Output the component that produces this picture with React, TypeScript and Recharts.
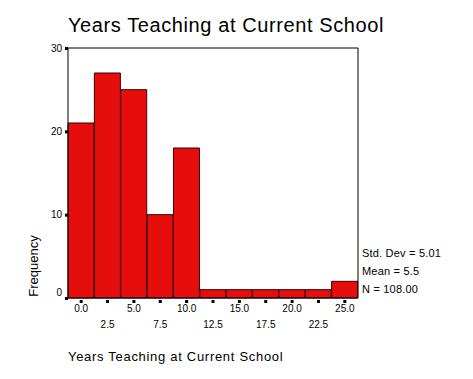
import * as React from "react"
import { Bar, BarChart, XAxis, YAxis } from "recharts"

// histogram bins (centres, width 2.5) and their counts
const binLabels = ["0.0", "2.5", "5.0", "7.5", "10.0", "12.5", "15.0", "17.5", "20.0", "22.5", "25.0"]
const frequencies = [21, 27, 25, 10, 18, 1, 1, 1, 1, 1, 2]
const yTicks = [0, 10, 20, 30]
const stats = ["Std. Dev = 5.01", "Mean = 5.5", "N = 108.00"]

const FONT = "Arial, 'Liberation Sans', sans-serif"
const BAR_RED = "#e60d0d"

const data = binLabels.map((bin, i) => ({ bin, count: frequencies[i] }))

function XTick(props: any) {
  const { x, y, payload, index } = props
  const lower = index % 2 === 1
  return (
    <g>
      <rect x={x - 1.5} y={y + 2} width={3} height={3} fill="#000" />
      <text
        x={x}
        y={y + (lower ? 30 : 14)}
        textAnchor="middle"
        fontSize={10}
        fontFamily={FONT}
        fill="#000"
      >
        {payload.value}
      </text>
    </g>
  )
}

function YTick(props: any) {
  const { x, y, payload } = props
  return (
    <g>
      <rect x={x - 3} y={y - 1} width={3} height={3} fill="#000" />
      <text
        x={x - 6}
        y={y + (payload.value === 0 ? -6 : 0)}
        dy={3.5}
        textAnchor="end"
        fontSize={10}
        fontFamily={FONT}
        fill="#000"
      >
        {payload.value}
      </text>
    </g>
  )
}

export default function App() {
  return (
    <div style={{ position: "absolute", left: 0, top: 0, width: 473, height: 379, background: "#fff" }}>
      <div
        style={{
          position: "absolute",
          left: 68,
          top: 14,
          fontFamily: FONT,
          fontSize: 20,
          letterSpacing: 0.6,
          whiteSpace: "nowrap",
          color: "#000",
        }}
      >
        Years Teaching at Current School
      </div>
      <div
        style={{
          position: "absolute",
          left: 33,
          top: 266,
          transform: "translate(-50%, -50%) rotate(-90deg)",
          fontFamily: FONT,
          fontSize: 13,
          whiteSpace: "nowrap",
        }}
      >
        Frequency
      </div>
      <div
        style={{
          position: "absolute",
          left: 68,
          top: 349,
          fontFamily: FONT,
          fontSize: 13,
          letterSpacing: 0.7,
          whiteSpace: "nowrap",
        }}
      >
        Years Teaching at Current School
      </div>
      {stats.map((s, i) => (
        <div
          key={s}
          style={{
            position: "absolute",
            left: 362,
            top: 247 + i * 18,
            fontFamily: FONT,
            fontSize: 11,
            letterSpacing: 0.2,
            whiteSpace: "nowrap",
          }}
        >
          {s}
        </div>
      ))}
      <div style={{ position: "absolute", left: 0, top: 0 }}>
        <BarChart
          width={473}
          height={379}
          data={data}
          margin={{ top: 47, right: 114, bottom: 41, left: 38 }}
          barCategoryGap={0}
          barGap={0}
        >
          <XAxis
            dataKey="bin"
            interval={0}
            height={40}
            tickSize={0}
            tickMargin={0}
            tickLine={false}
            axisLine={{ stroke: "#000" }}
            tick={<XTick />}
          />
          <XAxis
            xAxisId="top"
            dataKey="bin"
            orientation="top"
            height={1}
            tick={false}
            tickLine={false}
            axisLine={{ stroke: "#000" }}
          />
          <YAxis
            domain={[0, 30]}
            ticks={yTicks}
            width={30}
            tickSize={0}
            tickMargin={0}
            tickLine={false}
            axisLine={{ stroke: "#000" }}
            tick={<YTick />}
          />
          <YAxis
            yAxisId="right"
            orientation="right"
            domain={[0, 30]}
            width={1}
            tick={false}
            tickLine={false}
            axisLine={{ stroke: "#000" }}
          />
          <Bar dataKey="count" fill={BAR_RED} stroke="#3a0000" strokeWidth={1} isAnimationActive={false} />
        </BarChart>
      </div>
    </div>
  )
}
